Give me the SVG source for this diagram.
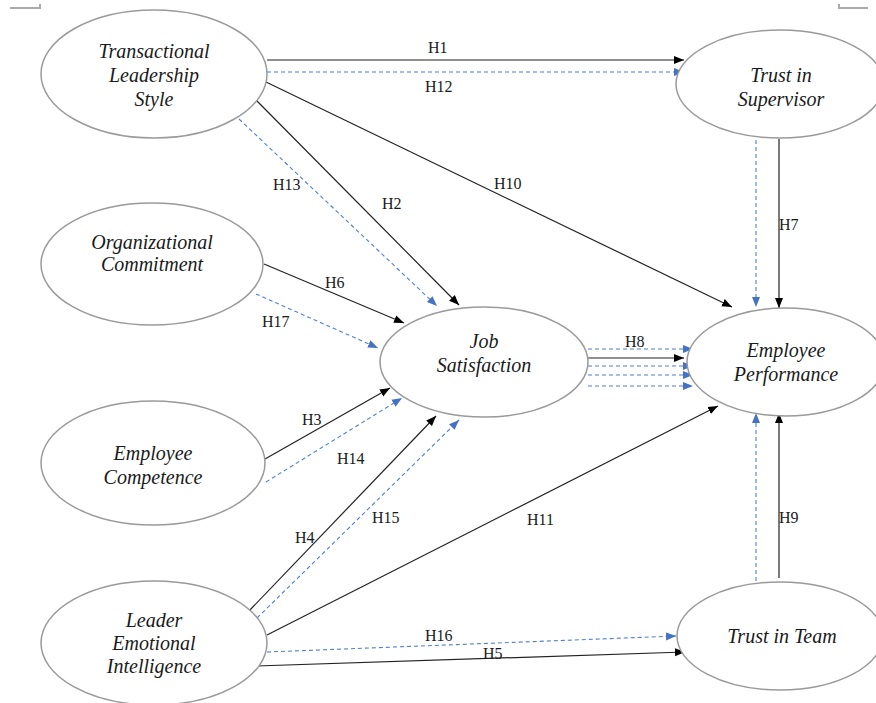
<svg xmlns="http://www.w3.org/2000/svg" width="876" height="703" viewBox="0 0 876 703">
<style>
.node ellipse{fill:#fff;stroke:#9a9a9a;stroke-width:1.5}
.node text{font-family:"Liberation Serif","Times New Roman",serif;font-style:italic;font-size:20px;fill:#1a1a1a;text-anchor:middle}
.lbl{font-family:"Liberation Serif","Times New Roman",serif;font-size:16px;fill:#1a1a1a}
.s{stroke:#222;stroke-width:1.2;fill:none;marker-end:url(#ab)}
.d{stroke:#4f7fd0;stroke-width:1.1;stroke-dasharray:4 3;fill:none;marker-end:url(#ad)}
.mark{stroke:#aaa;stroke-width:2;fill:none}
</style>
<defs>
<marker id="ab" viewBox="0 0 10 10" refX="10" refY="5" markerWidth="10" markerHeight="10" markerUnits="userSpaceOnUse" orient="auto">
<path d="M0,1 L10,5 L0,9 z" fill="#000"/>
</marker>
<marker id="ad" viewBox="0 0 10 10" refX="10" refY="5" markerWidth="10" markerHeight="10" markerUnits="userSpaceOnUse" orient="auto">
<path d="M0,1 L10,5 L0,9 z" fill="#4472c4"/>
</marker>
</defs>
<rect width="876" height="703" fill="#fff"/>
<path class="mark" d="M10,8 H40 V4"/>
<path class="mark" d="M839,4 V8 H868"/>

<g id="connectors">
<line class="s" x1="267" y1="60" x2="684" y2="60"/>
<line class="d" x1="267" y1="72" x2="684" y2="72"/>
<line class="s" x1="266" y1="82" x2="732" y2="307"/>
<line class="s" x1="256" y1="100" x2="459" y2="305"/>
<line class="d" x1="239" y1="119" x2="437" y2="306"/>
<line class="s" x1="264" y1="264" x2="404" y2="323"/>
<line class="d" x1="256" y1="294" x2="378" y2="348"/>
<line class="s" x1="265" y1="459" x2="390" y2="388"/>
<line class="d" x1="266" y1="482" x2="402" y2="398"/>
<line class="s" x1="248" y1="612" x2="436" y2="416"/>
<line class="d" x1="257" y1="618" x2="459" y2="420"/>
<line class="s" x1="267" y1="635" x2="718" y2="406"/>
<line class="d" x1="267" y1="652" x2="676" y2="636"/>
<line class="s" x1="256" y1="666" x2="685" y2="652"/>
<line class="s" x1="779" y1="139" x2="779" y2="308"/>
<line class="d" x1="756" y1="140" x2="756" y2="307"/>
<line class="s" x1="779" y1="578" x2="779" y2="413"/>
<line class="d" x1="756" y1="581" x2="756" y2="413"/>
<line class="s" x1="588" y1="358" x2="684" y2="358"/>
<line class="d" x1="588" y1="349" x2="693" y2="349"/>
<line class="d" x1="588" y1="366" x2="693" y2="366"/>
<line class="d" x1="588" y1="375" x2="693" y2="375"/>
<line class="d" x1="588" y1="386" x2="693" y2="386"/>
<text class="lbl" x="428" y="53">H1</text>
<text class="lbl" x="425" y="92">H12</text>
<text class="lbl" x="273" y="190">H13</text>
<text class="lbl" x="382" y="209">H2</text>
<text class="lbl" x="494" y="189">H10</text>
<text class="lbl" x="325" y="288">H6</text>
<text class="lbl" x="262" y="327">H17</text>
<text class="lbl" x="302" y="425">H3</text>
<text class="lbl" x="337" y="464">H14</text>
<text class="lbl" x="372" y="523">H15</text>
<text class="lbl" x="295" y="543">H4</text>
<text class="lbl" x="527" y="525">H11</text>
<text class="lbl" x="425" y="641">H16</text>
<text class="lbl" x="483" y="659">H5</text>
<text class="lbl" x="625" y="347">H8</text>
<text class="lbl" x="779" y="230">H7</text>
<text class="lbl" x="779" y="523">H9</text>
</g>

<g id="n-tls" class="node">
<ellipse cx="154" cy="74" rx="113" ry="64"/>
<text x="154" y="58">Transactional</text>
<text x="154" y="82">Leadership</text>
<text x="154" y="106">Style</text>
</g>
<g id="n-oc" class="node">
<ellipse cx="152" cy="264" rx="111" ry="61"/>
<text x="152" y="249">Organizational</text>
<text x="152" y="271">Commitment</text>
</g>
<g id="n-ec" class="node">
<ellipse cx="153" cy="463" rx="112" ry="62"/>
<text x="153" y="460">Employee</text>
<text x="153" y="484">Competence</text>
</g>
<g id="n-lei" class="node">
<ellipse cx="154" cy="643" rx="113" ry="62"/>
<text x="154" y="627">Leader</text>
<text x="154" y="650">Emotional</text>
<text x="154" y="673">Intelligence</text>
</g>
<g id="n-js" class="node">
<ellipse cx="484" cy="362" rx="104" ry="55"/>
<text x="484" y="348">Job</text>
<text x="484" y="372">Satisfaction</text>
</g>
<g id="n-ts" class="node">
<ellipse cx="780" cy="84" rx="104" ry="54"/>
<text x="781" y="82">Trust in</text>
<text x="781" y="106">Supervisor</text>
</g>
<g id="n-ep" class="node">
<ellipse cx="786" cy="362" rx="99" ry="54"/>
<text x="786" y="357">Employee</text>
<text x="786" y="381">Performance</text>
</g>
<g id="n-tt" class="node">
<ellipse cx="780" cy="636" rx="103" ry="54"/>
<text x="782" y="643">Trust in Team</text>
</g>
</svg>
